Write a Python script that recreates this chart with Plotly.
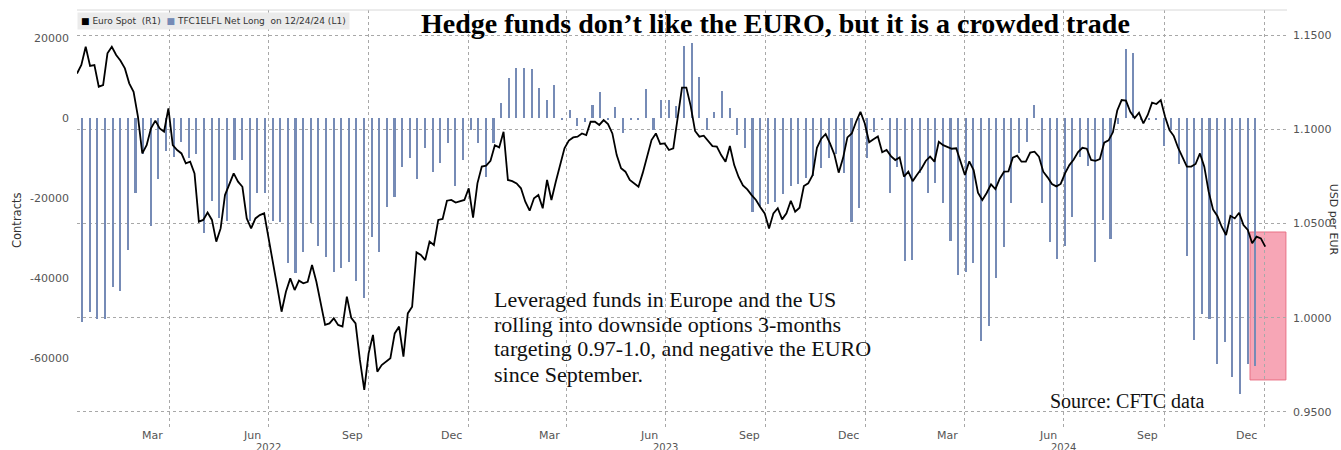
import pandas as pd
import plotly.graph_objects as go

# ---------------- data ----------------
euro_start = "2022-01-06"          # Euro spot sampled every 4 calendar days
euro_spot = [
    1.1296, 1.1341, 1.1438, 1.1336, 1.1341, 1.1226, 1.1235, 1.1403, 1.1438, 1.1394,
    1.1364, 1.1323, 1.1244, 1.1199, 1.1067, 1.0872, 1.0916, 1.1005, 1.1046, 1.1005,
    1.0987, 1.1111, 1.0916, 1.0890, 1.0872, 1.0819, 1.0828, 1.0766, 1.0510, 1.0519,
    1.0558, 1.0519, 1.0404, 1.0474, 1.0651, 1.0713, 1.0766, 1.0722, 1.0695, 1.0527,
    1.0474, 1.0527, 1.0545, 1.0554, 1.0430, 1.0297, 1.0165, 1.0032, 1.0138, 1.0209,
    1.0147, 1.0197, 1.0183, 1.0191, 1.0280, 1.0191, 1.0068, 0.9962, 0.9970, 0.9997,
    0.9962, 0.9953, 1.0112, 1.0000, 0.9970, 0.9776, 0.9617, 0.9811, 0.9909, 0.9714,
    0.9749, 0.9767, 0.9785, 0.9917, 0.9953, 0.9794, 1.0023, 1.0059, 1.0347, 1.0333,
    1.0306, 1.0404, 1.0386, 1.0519, 1.0524, 1.0621, 1.0625, 1.0611, 1.0616, 1.0625,
    1.0687, 1.0531, 1.0713, 1.0802, 1.0807, 1.0833, 1.0915, 1.0904, 1.0987, 1.0731,
    1.0725, 1.0713, 1.0687, 1.0616, 1.0568, 1.0634, 1.0651, 1.0581, 1.0731, 1.0625,
    1.0722, 1.0819, 1.0899, 1.0940, 1.0957, 1.0961, 1.0978, 1.0969, 1.1040, 1.1040,
    1.1023, 1.1049, 1.1028, 1.0978, 1.0863, 1.0793, 1.0775, 1.0731, 1.0713, 1.0695,
    1.0770, 1.0851, 1.0943, 1.0978, 1.0922, 1.0925, 1.0890, 1.0899, 1.1049, 1.1221,
    1.1221, 1.1123, 1.0991, 1.0961, 1.0966, 1.0938, 1.0911, 1.0908, 1.0863, 1.0828,
    1.0911, 1.0810, 1.0747, 1.0702, 1.0681, 1.0651, 1.0625, 1.0586, 1.0554, 1.0474,
    1.0554, 1.0581, 1.0522, 1.0554, 1.0621, 1.0563, 1.0584, 1.0699, 1.0713, 1.0757,
    1.0902, 1.0950, 1.0975, 1.0925, 1.0867, 1.0770, 1.0847, 1.0957, 1.0978, 1.1040,
    1.1093, 1.1031, 1.0931, 1.0947, 1.0962, 1.0878, 1.0890, 1.0858, 1.0837, 1.0851,
    1.0749, 1.0775, 1.0725, 1.0759, 1.0791, 1.0832, 1.0855, 1.0828, 1.0934, 1.0916,
    1.0908, 1.0897, 1.0899, 1.0830, 1.0757, 1.0830, 1.0784, 1.0664, 1.0625, 1.0662,
    1.0708, 1.0683, 1.0738, 1.0775, 1.0777, 1.0849, 1.0860, 1.0828, 1.0828, 1.0876,
    1.0881, 1.0855, 1.0775, 1.0745, 1.0710, 1.0697, 1.0710, 1.0766, 1.0810, 1.0840,
    1.0879, 1.0902, 1.0897, 1.0837, 1.0833, 1.0842, 1.0929, 1.0941, 1.0984, 1.1100,
    1.1155, 1.1152, 1.1093, 1.1060, 1.1088, 1.1031, 1.1076, 1.1141, 1.1134, 1.1155,
    1.1065, 1.0996, 1.0964, 1.0901, 1.0851, 1.0802, 1.0802, 1.0816, 1.0872, 1.0802,
    1.0669, 1.0575, 1.0540, 1.0483, 1.0439, 1.0541, 1.0527, 1.0557, 1.0492, 1.0466,
    1.0395, 1.0430, 1.0421, 1.0377,
]

cftc_start = "2022-01-11"          # weekly CFTC report dates (Tuesdays)
net_long = [
    -50800, -48300, -50200, -50200, -42100, -43100, -32900, -18600, -9000, -26900,
    -15200, -8100, -9700, -6000, -10000, -9000, -28750, -20700, -24800, -25600,
    -10400, -10400, -25600, -18750, -18750, -25700, -25800, -36250, -38750, -33500,
    -26250, -31800, -34600, -38300, -37500, -35800, -40600, -45000, -29750, -33500,
    -22250, -19600, -12250, -9800, -15250, -7500, -13300, -11250, -6250, -16900,
    -10400, -2900, -6100, -14600, -6250, 3900, 10000, 12500, 12500, 12300,
    7500, 4500, 8400, -200, 2100, -2000, -1000, 3400, 6500, -400,
    2900, -3700, -400, -200, 7300, -2900, 4600, 4600, 3000, 18100,
    18750, 10400, -2900, 1700, 6900, 2500, -4200, -7500, -23300, -22000,
    -21500, -21000, -19000, -17000, -16500, -15000, -14500, -12500, -10000, -9000,
    -13750, -25800, -22500, -10000, -3300, -500, -18750, -12100, -35600, -35400,
    -13750, -18750, -16250, -21100, -30600, -39200, -38500, -36250, -55600, -51900,
    -40000, -32250, -21250, -8750, -5800, 3300, -21100, -30800, -35250, -31900,
    -24600, -9600, -12000, -35800, -25500, -30200, -1500, 17300, 16300, -300,
    -300, -300, -7000, -3000, -11500, -34300, -55500, -49000, -50200, -61300,
    -56000, -64600, -68800, -61400, -62000,
]

quarter_starts = ["2022-04-01", "2022-07-01", "2022-10-01", "2023-01-01", "2023-04-01",
                  "2023-07-01", "2023-10-01", "2024-01-01", "2024-04-01", "2024-07-01",
                  "2024-10-01", "2025-01-01"]
month_label_dates = ["2022-03-16", "2022-06-16", "2022-09-16", "2022-12-16",
                     "2023-03-16", "2023-06-16", "2023-09-16", "2023-12-16",
                     "2024-03-16", "2024-06-16", "2024-09-16", "2024-12-16"]
month_labels = ["Mar", "Jun", "Sep", "Dec"] * 3
year_dates = ["2022-07-01", "2023-07-01", "2024-07-01"]
year_labels = ["2022", "2023", "2024"]

left_ticks = [-60000, -40000, -20000, 0, 20000]
left_labels = ["-60000", "-40000", "-20000", "0", "20000"]
right_ticks = [0.95, 1.00, 1.05, 1.10, 1.15]
right_labels = ["0.9500", "1.0000", "1.0500", "1.1000", "1.1500"]

target_zone = {"x0": "2024-12-19", "x1": "2025-01-21", "y0": 0.967, "y1": 1.0455}

title = "Hedge funds don’t like the EURO, but it is a crowded trade"
note_lines = ["Leveraged funds in Europe and the US",
              "rolling into downside options 3-months",
              "targeting 0.97-1.0, and negative the EURO",
              "since September."]
source = "Source: CFTC data"

# ---------------- figure ----------------
euro_dates = pd.date_range(euro_start, periods=len(euro_spot), freq="4D")
cftc_dates = pd.date_range(cftc_start, periods=len(net_long), freq="7D")

BAR_COLOR = "rgb(118,139,182)"
TICK_FONT = dict(family="DejaVu Sans", size=11, color="#555555")
GRID = dict(showgrid=True, gridcolor="#a8a8a8", griddash="dot", gridwidth=1)
x_range = ["2022-01-06", "2025-01-22"]

fig = go.Figure()
fig.add_trace(go.Bar(x=cftc_dates, y=net_long, width=1.45 * 86400000,
                     marker=dict(color=BAR_COLOR, line=dict(width=0)),
                     xaxis="x", yaxis="y", showlegend=False))
fig.add_trace(go.Scatter(x=euro_dates, y=euro_spot, mode="lines",
                         line=dict(color="black", width=1.8),
                         xaxis="x", yaxis="y2", showlegend=False))

fig.add_shape(type="rect", xref="x", yref="y2", layer="below",
              x0=target_zone["x0"], x1=target_zone["x1"],
              y0=target_zone["y0"], y1=target_zone["y1"],
              fillcolor="rgb(247,166,182)",
              line=dict(color="rgb(232,112,132)", width=1))
fig.add_shape(type="line", xref="paper", yref="paper", x0=0, x1=1, y0=1, y1=1,
              line=dict(color="#d8d8d8", width=1))

annotations = [
    dict(text="<b>" + title + "</b>", xref="paper", yref="paper", x=0.577, y=1,
         xanchor="center", yanchor="middle", yshift=-13, showarrow=False,
         font=dict(family="Liberation Serif", size=28, color="black")),
    dict(text='<span style="color:black">■</span> Euro Spot  (R1)  '
              f'<span style="color:{BAR_COLOR}">■</span> TFC1ELFL Net Long  on 12/24/24 (L1)',
         xref="paper", yref="paper", x=0, y=1, xanchor="left", yanchor="top",
         yshift=-2, showarrow=False, bgcolor="#ebebeb", borderpad=3,
         font=dict(family="DejaVu Sans", size=9, color="#333333")),
    dict(text="Contracts", xref="paper", yref="paper", x=-0.0496, y=0.4976,
         xanchor="center", yanchor="middle", textangle=-90, showarrow=False,
         font=dict(family="DejaVu Sans", size=11.5, color="#333333")),
    dict(text="USD per EUR", xref="paper", yref="paper", x=1.039, y=0.4976,
         xanchor="center", yanchor="middle", textangle=90, showarrow=False,
         font=dict(family="DejaVu Sans", size=11, color="#333333")),
    dict(text=source, xref="paper", yref="paper", x=0.8025, y=0.0646,
         xanchor="left", yanchor="middle", showarrow=False,
         font=dict(family="Liberation Serif", size=20, color="#111111")),
]
note_y = [0.3086, 0.2488, 0.189, 0.1268]
for line, yy in zip(note_lines, note_y):
    annotations.append(dict(text=line, xref="paper", yref="paper", x=0.343, y=yy,
                            xanchor="left", yanchor="middle", showarrow=False,
                            font=dict(family="Liberation Serif", size=22, color="#111111")))
for d, lab in zip(month_label_dates, month_labels):
    annotations.append(dict(text=lab, xref="x", yref="paper", x=d, y=0,
                            xanchor="center", yanchor="top", yshift=0, borderpad=0,
                            showarrow=False, font=TICK_FONT))
for d, lab in zip(year_dates, year_labels):
    annotations.append(dict(text=lab, xref="x", yref="paper", x=d, y=0,
                            xanchor="center", yanchor="top", yshift=-13, borderpad=0,
                            showarrow=False,
                            font=dict(family="DejaVu Sans", size=10, color="#555555")))

fig.update_layout(
    width=1341, height=450,
    margin=dict(l=77, r=54, t=10, b=22),
    paper_bgcolor="white", plot_bgcolor="white",
    bargap=0, showlegend=False,
    annotations=annotations,
    xaxis=dict(type="date", range=x_range, tickmode="array", tickvals=quarter_starts,
               showticklabels=False, ticks="", zeroline=False, showline=False, **GRID),
    yaxis=dict(range=[-77400, 27100], tickmode="array", tickvals=left_ticks,
               ticktext=left_labels, showgrid=False, zeroline=False, ticks="",
               ticklabelstandoff=7, tickfont=TICK_FONT),
    yaxis2=dict(range=[0.9415, 1.1633], overlaying="y", anchor="x", side="right",
                tickmode="array", tickvals=right_ticks, ticktext=right_labels,
                zeroline=False, ticks="", ticklabelstandoff=5, tickfont=TICK_FONT, **GRID),
)

fig.write_html("out.html")
